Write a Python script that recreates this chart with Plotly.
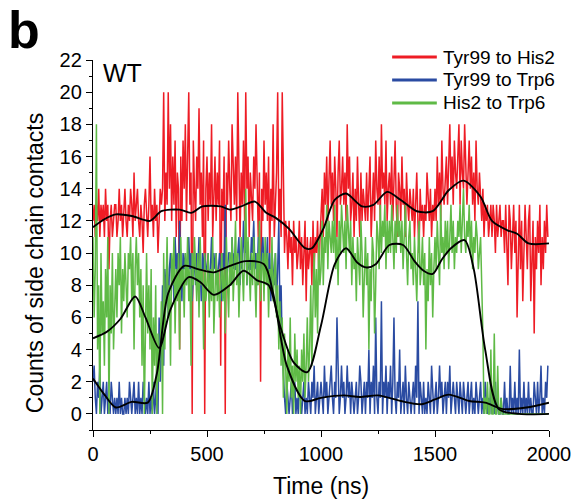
import plotly.graph_objects as go

# sampling times (ns), one value per 5 ns
time_ns = list(range(0, 2000, 5))

tyr99_his2 = [
    12,13,11,13,12,14,11,13,12,13,
    11,14,12,13,9,12,13,11,12,13,
    13,11,12,14,12,13,11,13,14,12,
    11,13,12,14,13,11,15,12,13,14,
    12,11,13,12,10,13,14,12,11,13,
    16,12,13,11,14,12,13,10,12,14,
    13,14,20,12,15,13,20,14,18,12,
    16,13,17,11,15,14,4,16,12,17,
    14,18,12,16,20,13,15,0,17,14,
    12,16,14,19,13,15,11,17,0,14,
    16,12,15,13,18,11,14,16,12,15,
    13,17,3,14,12,16,0,15,13,17,
    14,12,18,15,13,16,12,20,14,11,
    15,13,17,12,20,14,16,11,15,13,
    12,16,14,18,13,11,15,2,14,12,
    17,13,15,12,16,10,14,12,18,11,
    13,15,20,12,14,11,20,13,10,12,
    11,9,12,10,11,8,12,10,11,9,
    10,12,9,11,8,10,12,7,11,9,
    10,11,8,12,9,11,10,12,9,11,
    12,14,11,15,13,16,12,14,17,13,
    15,12,16,14,11,15,17,13,14,16,
    13,15,12,18,14,16,12,13,15,11,
    14,12,16,13,11,15,12,14,13,12,
    15,12,14,16,11,13,15,12,17,14,
    13,16,12,18,14,15,13,17,12,14,
    15,13,16,12,14,17,13,11,15,14,
    12,16,13,14,11,15,13,12,14,13,
    12,14,11,13,15,12,10,14,12,13,
    11,13,12,15,13,12,14,11,13,12,
    14,12,16,13,15,12,17,14,13,15,
    16,13,15,18,14,16,13,17,15,14,
    16,18,13,17,15,14,18,16,13,15,
    17,14,16,13,15,12,17,14,13,15,
    13,12,14,11,13,12,13,11,12,13,
    11,13,12,10,13,11,12,13,11,12,
    12,10,13,11,8,13,12,9,11,13,
    10,12,6,11,13,9,12,7,10,13,
    11,9,12,13,7,10,12,5,11,9,
    12,10,13,8,11,9,12,10,13,11,
]

tyr99_trp6 = [
    2,3,1,0,2,1,3,0,1,2,
    0,1,2,0,1,0,2,1,0,1,
    0,1,0,2,0,1,0,0,1,0,
    1,0,2,1,0,1,2,0,1,0,
    2,0,1,0,2,1,0,1,0,2,
    0,1,0,2,0,1,3,0,6,2,
    4,8,3,9,7,10,6,9,10,8,
    9,7,11,9,10,8,12,9,7,10,
    9,10,8,9,11,9,10,7,9,10,
    8,10,9,11,9,7,10,9,10,9,
    9,10,7,9,11,8,10,9,10,8,
    9,10,9,7,10,9,13,8,9,10,
    10,8,11,9,10,9,9,10,11,8,
    10,9,12,10,11,8,10,9,9,11,
    10,12,9,10,8,11,10,9,10,11,
    9,10,9,11,8,10,7,10,9,8,
    10,7,9,12,6,8,4,2,1,0,
    2,1,0,1,2,0,1,2,0,1,
    0,2,1,0,1,2,0,1,0,2,
    1,0,2,1,3,0,1,2,0,1,
    2,1,0,3,1,2,0,1,2,3,
    1,0,2,1,6,2,0,1,3,1,
    2,0,1,3,1,2,0,2,1,0,
    1,2,0,1,3,2,0,1,2,0,
    2,1,4,0,2,1,3,0,6,1,
    0,2,1,7,0,2,1,3,0,2,
    1,3,0,2,6,1,0,2,1,4,
    0,1,2,0,3,1,0,2,1,0,
    1,2,0,3,1,7,0,2,1,0,
    2,0,1,0,2,1,0,3,1,0,
    1,2,0,1,3,1,2,0,1,2,
    0,2,1,3,0,1,2,1,0,2,
    1,0,2,1,0,2,1,0,1,2,
    0,1,2,0,1,0,2,1,0,1,
    2,0,1,0,2,1,0,1,0,2,
    0,1,0,2,0,1,0,0,1,0,
    0,2,0,1,0,0,3,0,1,0,
    2,0,1,0,4,0,1,0,2,0,
    1,0,2,0,1,0,0,2,1,0,
    2,0,1,3,0,1,0,2,1,3,
]

his2_trp6 = [
    11,6,9,18,4,8,0,10,5,7,
    3,9,6,11,0,8,5,10,4,7,
    9,6,10,8,11,5,9,7,10,8,
    6,10,9,11,7,10,4,9,11,8,
    10,6,9,3,8,0,7,10,5,8,
    4,9,0,6,3,8,0,5,2,4,
    7,0,10,4,9,11,6,8,3,10,
    8,11,5,9,7,10,4,11,8,9,
    6,10,8,11,7,9,3,10,8,11,
    9,7,10,6,11,8,9,4,10,7,
    8,10,6,9,7,11,5,8,10,7,
    9,6,8,10,7,9,5,11,8,6,
    10,8,11,7,9,12,8,10,6,9,
    11,9,7,10,14,8,11,9,7,10,
    8,11,9,6,10,8,12,7,9,10,
    7,11,8,10,6,9,8,11,7,9,
    10,6,8,4,7,3,6,1,5,3,
    0,4,2,6,1,3,0,5,2,4,
    1,3,0,4,2,5,1,3,6,2,
    4,8,3,7,10,6,9,5,11,8,
    9,12,8,11,10,13,9,12,11,10,
    12,10,13,9,11,8,12,10,13,11,
    10,12,9,13,11,10,12,8,11,9,
    10,7,11,9,8,12,10,6,9,11,
    8,10,4,9,7,11,10,5,8,12,
    11,9,13,10,12,11,13,9,12,10,
    12,10,13,11,9,12,10,13,11,12,
    10,12,9,11,13,10,8,11,12,9,
    10,8,11,9,7,10,12,8,9,11,
    8,10,4,9,7,11,8,10,6,9,
    11,9,12,10,8,13,10,11,9,12,
    10,12,9,11,13,10,12,9,11,10,
    12,11,13,10,12,14,11,10,12,11,
    13,10,12,9,11,10,12,11,9,10,
    11,8,5,0,1,0,2,0,0,4,
    0,0,5,0,0,3,0,0,1,0,
    0,0,0,0,0,0,0,0,0,0,
    0,0,0,0,0,0,0,0,0,0,
    0,0,0,0,0,0,0,0,0,0,
    0,0,0,0,0,0,0,0,0,0,
]

# smoothed (black) curves, knots
red_smooth_t = [0,50,100,170,250,300,380,430,480,560,600,650,710,760,800,860,930,960,1010,1060,1110,1180,1230,1290,1350,1420,1490,1560,1625,1700,1750,1820,1860,1910,2000]
red_smooth_v = [11.6,12.1,12.4,12.3,12.0,12.6,12.7,12.5,12.9,12.9,12.7,12.9,13.2,12.5,12.2,11.5,10.3,10.3,11.5,13.3,13.7,12.9,13.0,13.8,13.3,12.6,12.6,13.9,14.5,13.5,12.0,11.4,11.2,10.6,10.6]

blue_smooth_t = [0,50,100,170,240,280,330,400,460,530,600,670,750,790,850,930,1000,1100,1170,1250,1350,1440,1500,1560,1650,1720,1800,1900,2000]
blue_smooth_v = [2.2,1.2,0.4,0.75,0.7,2.5,7.5,9.2,9.0,8.8,9.2,9.5,9.3,7.5,3.0,0.8,1.0,1.15,1.05,1.15,0.8,0.6,0.9,1.2,0.8,0.7,0.3,0.4,0.7]

green_smooth_t = [0,60,120,185,230,290,340,420,470,530,600,660,720,770,820,880,940,1000,1060,1110,1160,1200,1240,1300,1360,1410,1450,1490,1530,1570,1630,1670,1720,1780,1870,2000]
green_smooth_v = [4.7,5.1,5.9,7.3,6.0,4.1,6.5,8.5,8.2,7.4,8.0,8.9,8.3,8.0,5.5,3.2,2.6,5.5,9.3,10.3,9.4,9.1,9.3,10.5,10.5,9.5,8.9,8.7,9.6,10.3,10.8,9.0,4.0,0.3,0.0,0.0]

names = ["Tyr99 to His2", "Tyr99 to Trp6", "His2 to Trp6"]
colors = ["#ee1c25", "#2a4ba2", "#5fba46"]
series = [tyr99_his2, tyr99_trp6, his2_trp6]

FONT = "Liberation Sans, Arial, sans-serif"

fig = go.Figure()
for name, col, vals in zip(names, colors, series):
    fig.add_trace(go.Scatter(x=time_ns, y=vals, mode="lines", name=name,
                             line=dict(color=col, width=1.5), showlegend=False,
                             hoverinfo="skip"))

for t, v in [(red_smooth_t, red_smooth_v), (blue_smooth_t, blue_smooth_v),
             (green_smooth_t, green_smooth_v)]:
    fig.add_trace(go.Scatter(x=t, y=v, mode="lines", showlegend=False,
                             line=dict(color="black", width=1.9, shape="spline", smoothing=0.8)))

# manual legend (paper coordinates)
leg_y = [1.008, 0.946, 0.884]
for name, col, yy in zip(names, colors, leg_y):
    fig.add_shape(type="line", xref="paper", yref="paper", x0=0.656, x1=0.754,
                  y0=yy, y1=yy, line=dict(color=col, width=3))
    fig.add_annotation(x=0.763, y=yy, xref="paper", yref="paper", text=name,
                       showarrow=False, xanchor="left", yanchor="middle",
                       font=dict(size=19, color="black", family=FONT))

fig.add_annotation(x=-0.19, y=1.165, xref="paper", yref="paper", text="<b>b</b>",
                   showarrow=False, xanchor="left", yanchor="top",
                   font=dict(size=52, color="black", family=FONT))
fig.add_annotation(x=36, y=21.2, xref="x", yref="y", text="WT", showarrow=False,
                   xanchor="left", yanchor="middle",
                   font=dict(size=25, color="black", family=FONT))
fig.add_annotation(x=-0.127, y=0.451, xref="paper", yref="paper",
                   text="Counts of side chain contacts", textangle=-90,
                   showarrow=False, xanchor="center", yanchor="middle",
                   font=dict(size=23, color="black", family=FONT))
fig.add_annotation(x=0.5, y=-0.151, xref="paper", yref="paper",
                   text="Time (ns)", showarrow=False, xanchor="center", yanchor="middle",
                   font=dict(size=23, color="black", family=FONT))

fig.update_layout(
    width=572, height=504,
    margin=dict(l=93, r=23, t=60, b=74),
    paper_bgcolor="white", plot_bgcolor="white",
    font=dict(family=FONT, size=20, color="black"),
    showlegend=False,
    xaxis=dict(range=[0, 2000], tick0=0, dtick=500, showgrid=False, zeroline=False,
               showline=True, linecolor="black", linewidth=1.3, automargin=False,
               ticks="outside", ticklen=6, tickwidth=1.3, tickcolor="black",
               minor=dict(ticks="outside", dtick=250, ticklen=3, tickcolor="black", tickwidth=1.2),
               tickfont=dict(size=20)),
    yaxis=dict(range=[-1, 22], tick0=0, dtick=2, showgrid=False, zeroline=False,
               showline=True, linecolor="black", linewidth=1.3, automargin=False,
               ticks="outside", ticklen=6, tickwidth=1.3, tickcolor="black",
               minor=dict(ticks="outside", dtick=1, ticklen=3, tickcolor="black", tickwidth=1.2),
               tickfont=dict(size=20)),
)

fig.write_html("out.html")
